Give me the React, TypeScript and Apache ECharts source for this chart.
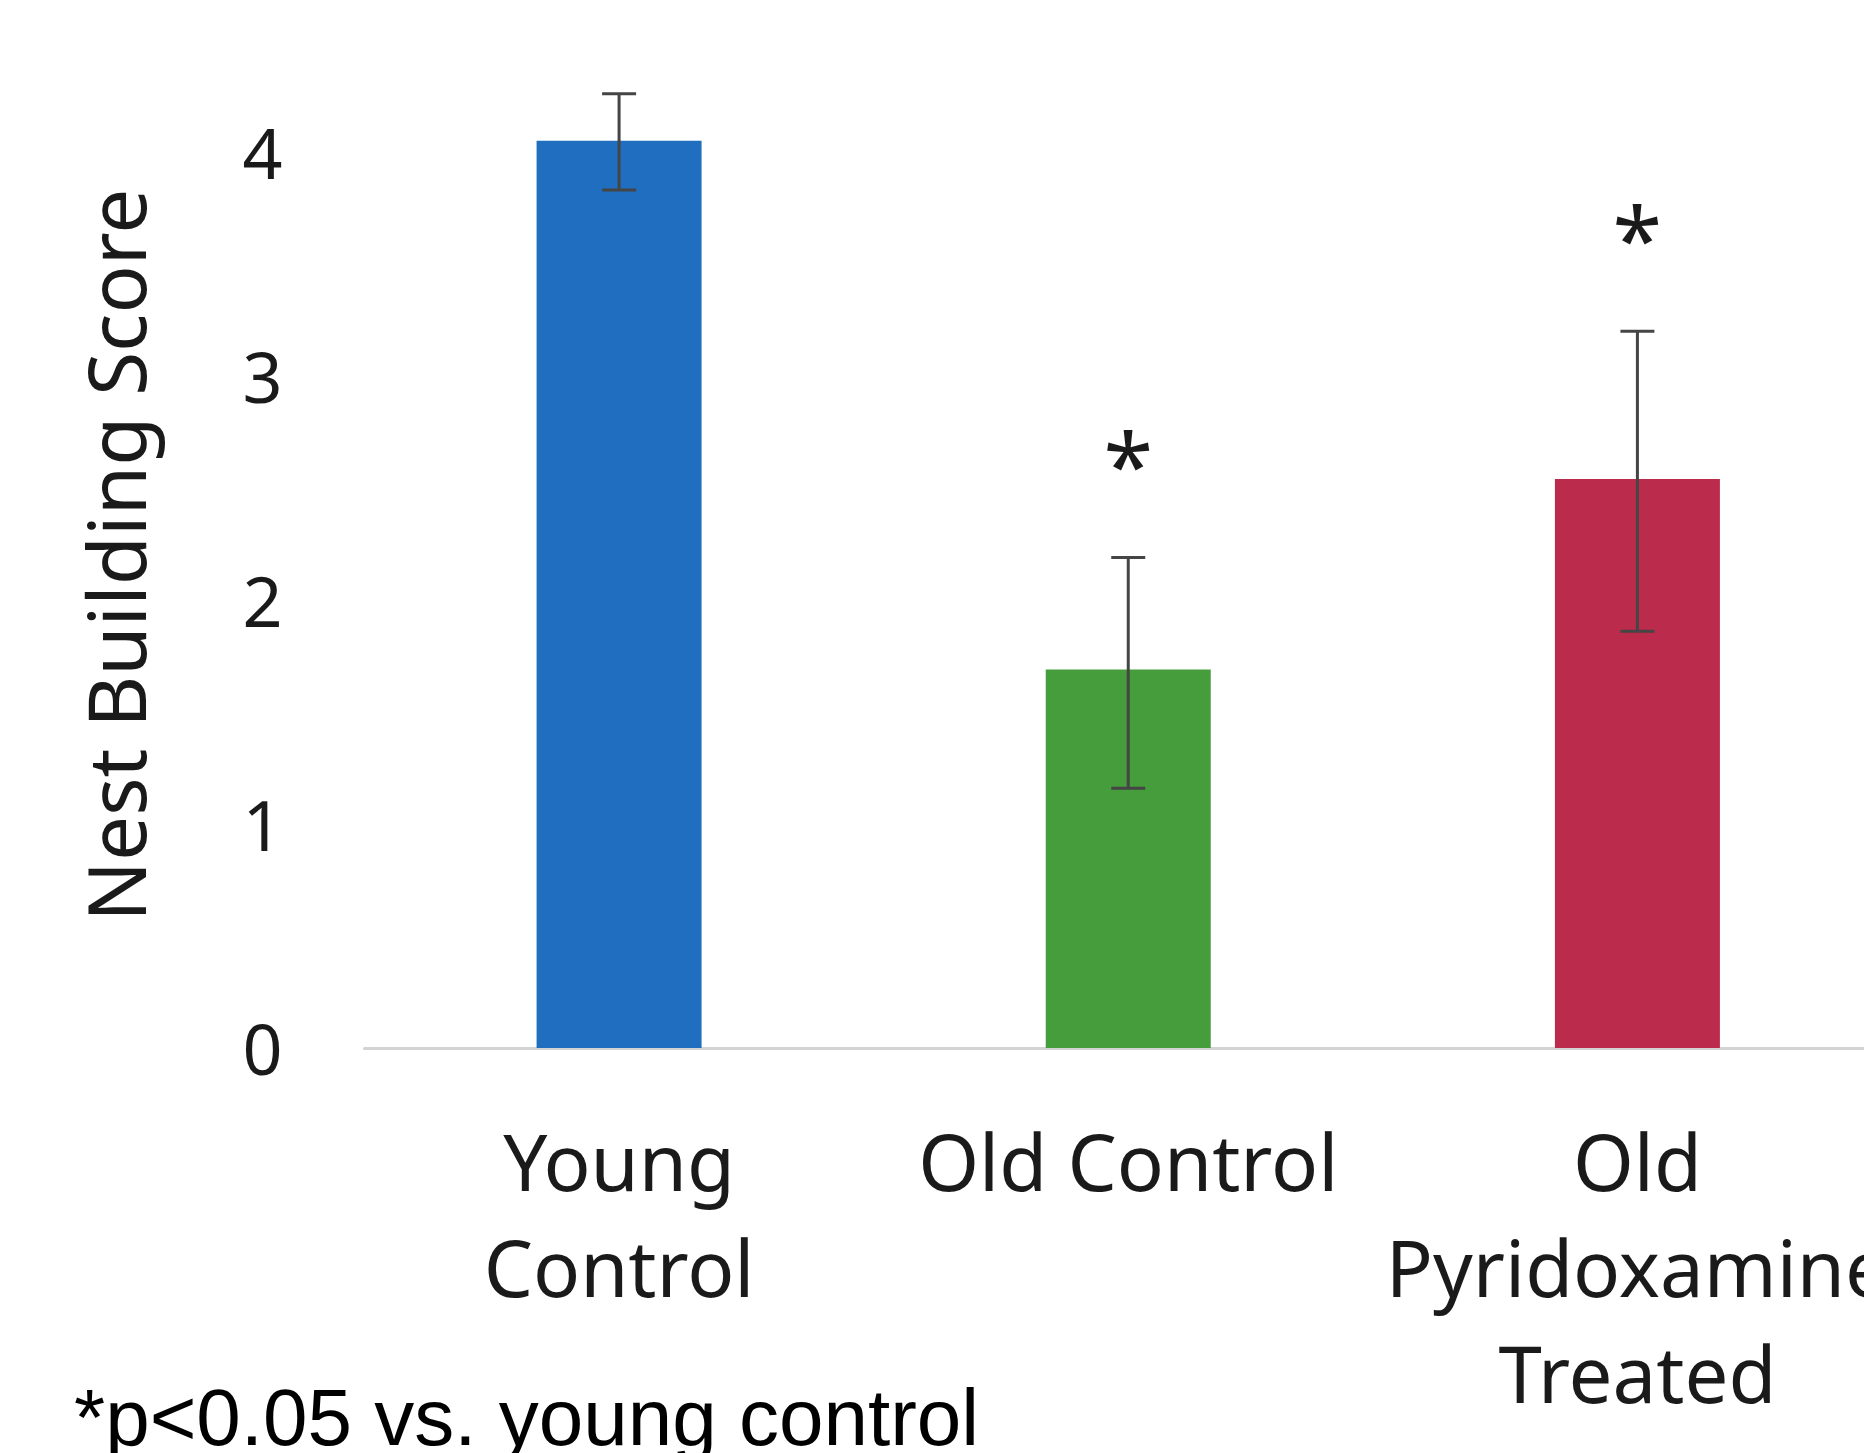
import React, { useEffect, useRef } from "react";
import * as echarts from "echarts";

const categories = ["Young\nControl", "Old Control", "Old\nPyridoxamine\nTreated"];
const means = [4.05, 1.69, 2.54];
const errUpper = [4.26, 2.19, 3.2];
const errLower = [3.83, 1.16, 1.86];
const significance = ["", "*", "*"];
const barColors = ["#1F6EC0", "#459D3B", "#BB2B4C"];
const yMin = 0;
const yMax = 4.4;
const yInterval = 1;
const footnote = "*p<0.05 vs. young control";
const yTitle = "Nest Building Score";

export default function App() {
  const ref = useRef<HTMLDivElement>(null);
  useEffect(() => {
    if (!ref.current) return;
    const chart = echarts.init(ref.current, null, { renderer: "svg" });
    const errData = categories.map((_, i) => [i, errLower[i], errUpper[i], significance[i]]);
    chart.setOption({
      animation: false,
      backgroundColor: "#ffffff",
      grid: { left: 364.5, right: 0, top: 62.4, bottom: 405, containLabel: false },
      xAxis: {
        type: "category",
        data: categories,
        axisLine: { show: true, lineStyle: { color: "#d3d3d3", width: 3 } },
        axisTick: { show: false },
        axisLabel: {
          interval: 0,
          margin: 60,
          fontFamily: "Noto Sans",
          fontSize: 78,
          lineHeight: 106,
          color: "#1a1a1a",
        },
      },
      yAxis: {
        type: "value",
        min: yMin,
        max: yMax,
        interval: yInterval,
        name: yTitle,
        nameLocation: "middle",
        nameGap: 210,
        nameRotate: 90,
        nameTextStyle: { fontFamily: "Noto Sans", fontSize: 80, color: "#1a1a1a" },
        axisLine: { show: false },
        axisTick: { show: false },
        splitLine: { show: false },
        axisLabel: {
          margin: 82,
          fontFamily: "Noto Sans",
          fontSize: 70,
          color: "#1a1a1a",
          formatter: (v: number) => (Math.abs(v - Math.round(v)) < 1e-9 ? String(Math.round(v)) : ""),
        },
      },
      series: [
        {
          type: "bar",
          barWidth: 165,
          data: means.map((v, i) => ({ value: v, itemStyle: { color: barColors[i] } })),
        },
        {
          type: "custom",
          data: errData,
          z: 10,
          renderItem: (params: any, api: any) => {
            const x = api.value(0);
            const lo = api.coord([x, api.value(1)]);
            const hi = api.coord([x, api.value(2)]);
            const star = api.coord([x, api.value(2) + 0.48]);
            const half = 17;
            const stroke = { stroke: "#454545", lineWidth: 3 };
            const children: any[] = [
              { type: "line", shape: { x1: hi[0], y1: hi[1], x2: lo[0], y2: lo[1] }, style: stroke },
              { type: "line", shape: { x1: hi[0] - half, y1: hi[1], x2: hi[0] + half, y2: hi[1] }, style: stroke },
              { type: "line", shape: { x1: lo[0] - half, y1: lo[1], x2: lo[0] + half, y2: lo[1] }, style: stroke },
            ];
            const sig = significance[params.dataIndex];
            if (sig) {
              children.push({
                type: "text",
                x: star[0],
                y: star[1] + 13,
                style: {
                  text: sig,
                  fontFamily: "Noto Sans",
                  fontSize: 90,
                  fill: "#1a1a1a",
                  align: "center",
                  verticalAlign: "middle",
                },
              });
            }
            return { type: "group", children };
          },
        },
      ],
      graphic: [
        {
          type: "text",
          left: 74,
          top: 1377,
          style: {
            text: footnote,
            fontFamily: "Liberation Sans",
            fontSize: 80,
            fill: "#000000",
          },
        },
      ],
    });
    return () => chart.dispose();
  }, []);
  return (
    <div style={{ position: "absolute", left: 0, top: 0, width: 1864, height: 1453, overflow: "hidden" }}>
      <div ref={ref} style={{ position: "absolute", left: 0, top: 0, width: 1892, height: 1453 }} />
    </div>
  );
}
